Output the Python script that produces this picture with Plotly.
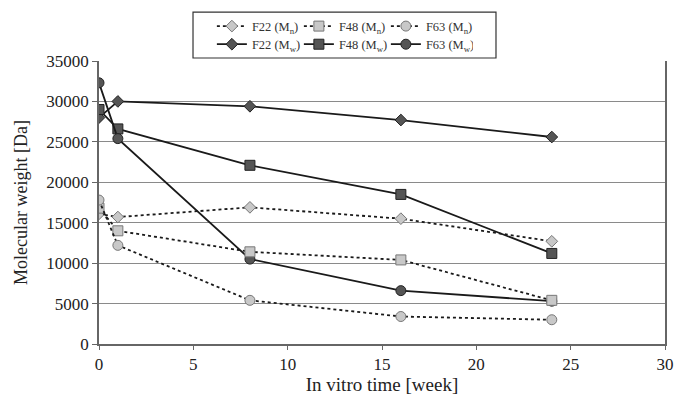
import plotly.graph_objects as go

weeks = [0, 1, 8, 16, 24]

f22_mn = [16100, 15700, 16900, 15500, 12700]
f48_mn = [16800, 14000, 11400, 10400, 5400]
f63_mn = [17800, 12200, 5400, 3400, 3000]
f22_mw = [28000, 30000, 29400, 27700, 25600]
f48_mw = [29000, 26600, 22100, 18500, 11200]
f63_mw = [32300, 25400, 10500, 6600, 5300]

x_ticks = [0, 5, 10, 15, 20, 25, 30]
y_ticks = [0, 5000, 10000, 15000, 20000, 25000, 30000, 35000]
y_labels = [str(v) for v in y_ticks]

FONT = "Liberation Serif, Times New Roman, serif"
LIGHT = "#c8c8c8"
DARK = "#555555"

# (label, values, marker, fill, edge, dash, size, legend row)
# Mw series are drawn first so the Mn markers sit on top.
series = [
    ("F22 (M<sub>w</sub>)", f22_mw, "diamond", DARK, "#222222", "solid", 9, "legend2"),
    ("F48 (M<sub>w</sub>)", f48_mw, "square", DARK, "#222222", "solid", 10, "legend2"),
    ("F63 (M<sub>w</sub>)", f63_mw, "circle", DARK, "#222222", "solid", 10, "legend2"),
    ("F22 (M<sub>n</sub>)", f22_mn, "diamond", LIGHT, "#777777", "dot", 9, "legend"),
    ("F48 (M<sub>n</sub>)", f48_mn, "square", LIGHT, "#777777", "dot", 10, "legend"),
    ("F63 (M<sub>n</sub>)", f63_mn, "circle", LIGHT, "#777777", "dot", 10, "legend"),
]

fig = go.Figure()
for name, vals, sym, fill, edge, dash, size, leg in series:
    fig.add_trace(go.Scatter(
        x=weeks, y=vals, name=name, mode="lines+markers", legend=leg,
        line=dict(color="#1a1a1a", width=1.8, dash=dash),
        marker=dict(symbol=sym, size=size, color=fill,
                    line=dict(color=edge, width=1)),
    ))

legend_common = dict(
    orientation="h", xanchor="center", yanchor="middle",
    entrywidth=42, entrywidthmode="pixels",
    borderwidth=0, bgcolor="rgba(0,0,0,0)",
    font=dict(family=FONT, size=12.5, color="#333333"),
    tracegroupgap=0, itemwidth=30,
)

fig.update_layout(
    width=675, height=395,
    margin=dict(l=99, r=10, t=61, b=51, autoexpand=False),
    paper_bgcolor="white", plot_bgcolor="white",
    font=dict(family=FONT, size=16, color="#222222"),
    showlegend=True,
    legend=dict(x=0.43, y=1.122, **legend_common),
    legend2=dict(x=0.43, y=1.058, **legend_common),
    shapes=[dict(
        type="rect", xref="paper", yref="paper",
        x0=0.1661, x1=0.7014, y0=1.0106, y1=1.173,
        line=dict(color="#333333", width=1.2), fillcolor="rgba(0,0,0,0)",
        layer="below",
    )],
    xaxis=dict(
        range=[0, 30], tickvals=x_ticks, showgrid=False, zeroline=False,
        showline=True, linecolor="#666666", linewidth=1.5,
        ticks="outside", ticklen=4, tickcolor="#666666", automargin=False,
        title=dict(text="In vitro time [week]", standoff=8,
                   font=dict(family=FONT, size=19)),
        tickfont=dict(family=FONT, size=17),
    ),
    yaxis=dict(
        range=[0, 35000], tickvals=y_ticks, ticktext=y_labels, showgrid=True,
        gridcolor="#8a8a8a", gridwidth=1.3, zeroline=False,
        showline=True, mirror=True, linecolor="#666666", linewidth=1.5,
        ticks="outside", ticklen=5, tickcolor="#666666", automargin=False,
        title=dict(text="Molecular weight [Da]", standoff=14,
                   font=dict(family=FONT, size=18)),
        tickfont=dict(family=FONT, size=17),
    ),
)

fig.write_html("out.html")
